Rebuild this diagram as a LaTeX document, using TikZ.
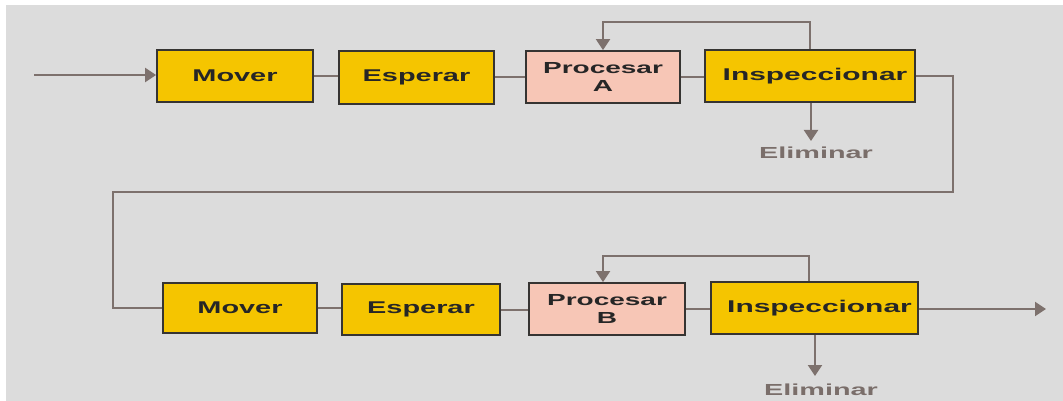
\documentclass[tikz,border=0pt]{standalone}
\usepackage{fontspec}
\setmainfont{Liberation Sans}
\usetikzlibrary{arrows.meta}
\definecolor{bgc}{HTML}{DCDCDC}
\definecolor{yel}{HTML}{F5C500}
\definecolor{pnk}{HTML}{F7C6B6}
\definecolor{bord}{HTML}{363432}
\definecolor{conn}{HTML}{7D716D}
\definecolor{txt}{HTML}{262626}
\definecolor{elim}{HTML}{7A6E6A}
\newcommand{\wtxt}[2]{\scalebox{#1}[1]{#2}}
\tikzset{
  box/.style={draw=bord, line width=1.8pt, inner sep=0pt, align=center,
    text=txt, font=\bfseries\fontsize{17}{18}\selectfont},
  ybox/.style={box, fill=yel},
  pbox/.style={box, fill=pnk, font=\bfseries\fontsize{16}{18}\selectfont},
  conline/.style={draw=conn, line width=2pt},
  conarrow/.style={conline, -{Triangle[width=14pt,length=11pt]}},
  elimlbl/.style={text=elim, font=\bfseries\fontsize{16}{18}\selectfont, inner sep=0pt}
}
\begin{document}
\begin{tikzpicture}[x=1pt,y=-1pt]
\useasboundingbox (0,0) rectangle (1063,401);
\fill[bgc] (6,5) rectangle (1063,401);
% top row
\node[ybox, minimum width=156pt, minimum height=52pt] (m1) at (235,76) {\wtxt{1.7}{Mover}};
\node[ybox, minimum width=155pt, minimum height=53pt] (e1) at (416.5,77.5) {\wtxt{1.7}{Esperar}};
\node[pbox, minimum width=154pt, minimum height=52pt] (p1) at (603,77) {\wtxt{1.75}{Procesar}\\\wtxt{1.75}{A}};
\node[ybox, minimum width=210pt, minimum height=52pt] (i1) at (810,76) {\hspace*{10pt}\wtxt{1.76}{Inspeccionar}};
% bottom row
\node[ybox, minimum width=154pt, minimum height=50pt] (m2) at (240,308) {\wtxt{1.7}{Mover}};
\node[ybox, minimum width=158pt, minimum height=51pt] (e2) at (421,309.5) {\wtxt{1.7}{Esperar}};
\node[pbox, minimum width=156pt, minimum height=52pt] (p2) at (607,309) {\wtxt{1.75}{Procesar}\\\wtxt{1.75}{B}};
\node[ybox, minimum width=207pt, minimum height=52pt] (i2) at (814.5,308) {\hspace*{10pt}\wtxt{1.76}{Inspeccionar}};
% labels
\node[elimlbl] (el1) at (816,153) {\wtxt{1.8}{Eliminar}};
\node[elimlbl] (el2) at (821,390) {\wtxt{1.8}{Eliminar}};
% coordinates
\coordinate (in) at (34,75);
\coordinate (out) at (1046,309);
\coordinate (d1) at (811,141);
\coordinate (d2) at (815,376);
% connectors
\draw[conarrow] (in) -- (m1.west |- in);
\draw[conline] (m1.east) -- (m1.east -| e1.west);
\draw[conline] (e1.east) -- (e1.east -| p1.west);
\draw[conline] (p1.east) -- (p1.east -| i1.west);
\draw[conline] (m2.east) -- (m2.east -| e2.west);
\draw[conline] (e2.east) -- (e2.east -| p2.west);
\draw[conline] (p2.east) -- (p2.east -| i2.west);
\draw[conarrow] (i1.north) -- ++(0,-27) -| (p1.north);
\draw[conarrow] ([xshift=-6pt]i2.north) -- ++(0,-25) -| ([xshift=-4pt]p2.north);
\draw[conarrow] ([xshift=1pt]i1.south) -- (d1);
\draw[conarrow] (i2.south -| d2) -- (d2);
\draw[conline] (i1.east) -- ++(37,0) |- (113,192) |- (m2.west);
\draw[conarrow] (i2.east |- out) -- (out);
\end{tikzpicture}
\end{document}
